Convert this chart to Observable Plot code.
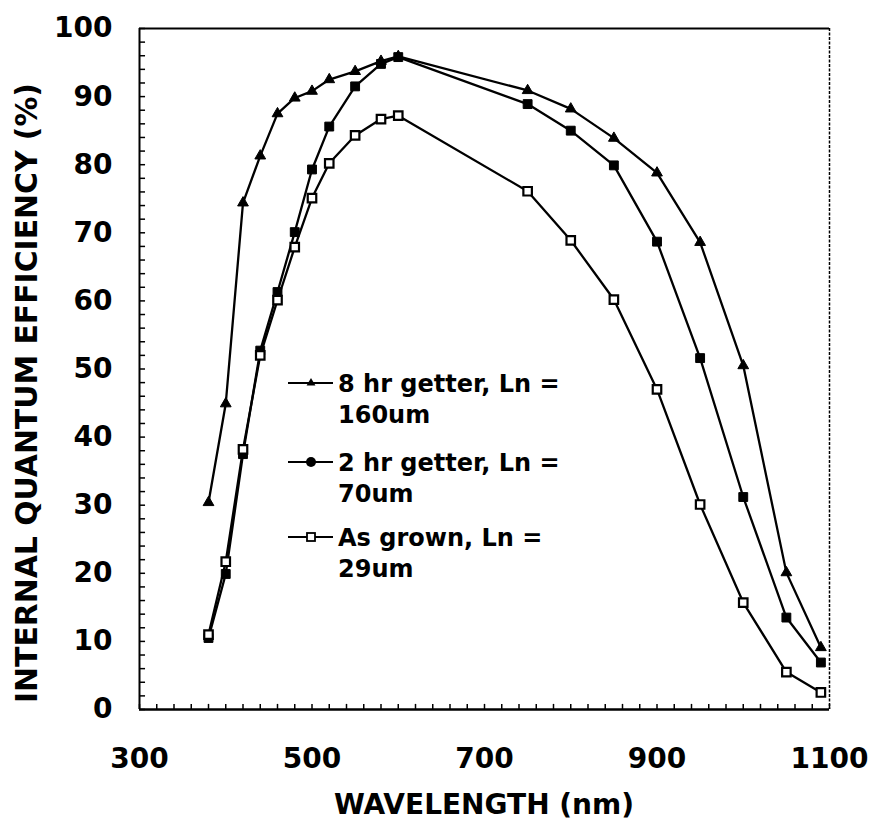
<!DOCTYPE html>
<html>
<head>
<meta charset="utf-8">
<script src="https://cdn.jsdelivr.net/npm/d3@7"></script>
<script src="https://cdn.jsdelivr.net/npm/@observablehq/plot@0.6"></script>
<style>
  html, body { margin: 0; padding: 0; background: white; }
  #chart svg { display: block; }
</style>
</head>
<body>
<div id="chart"></div>
<script>
// ---- data ----
const wavelengths = [380, 400, 420, 440, 460, 480, 500, 520, 550, 580, 600, 750, 800, 850, 900, 950, 1000, 1050, 1090];
const getter8hr   = [30.4, 44.9, 74.4, 81.3, 87.5, 89.8, 90.8, 92.5, 93.7, 95.2, 95.9, 90.9, 88.2, 83.9, 78.8, 68.6, 50.5, 20.1, 9.1];
const getter2hr   = [10.5, 19.9, 37.5, 52.7, 61.3, 70.1, 79.3, 85.6, 91.5, 94.8, 95.8, 88.9, 85.0, 79.9, 68.7, 51.6, 31.2, 13.5, 6.9];
const asGrown     = [11.0, 21.7, 38.2, 52.0, 60.1, 67.9, 75.1, 80.2, 84.3, 86.7, 87.2, 76.1, 68.9, 60.2, 47.0, 30.1, 15.7, 5.5, 2.5];

const seriesNames = ["8 hr getter, Ln =", "2 hr getter, Ln =", "As grown, Ln ="];
const seriesSub   = ["160um", "70um", "29um"];

const xTickValues = [300, 500, 700, 900, 1100];
const yTickValues = [0, 10, 20, 30, 40, 50, 60, 70, 80, 90, 100];
const xMinorTicks = d3.range(300, 1101, 20);
const yMinorTicks = d3.range(0, 101, 2);

const xTitle = "WAVELENGTH (nm)";
const yTitle = "INTERNAL QUANTUM EFFICIENCY (%)";

// ---- tidy table ----
const seriesValues = [getter8hr, getter2hr, asGrown];
const rows = seriesValues.flatMap((vals, s) =>
  wavelengths.map((w, i) => ({series: seriesNames[s], w, v: vals[i]})));
const bySeries = s => rows.filter(d => d.series === seriesNames[s]);

const W = 871, H = 821;
const M = {top: 28, right: 42, bottom: 112, left: 139};

const chart = Plot.plot({
  width: W, height: H,
  marginTop: M.top, marginRight: M.right, marginBottom: M.bottom, marginLeft: M.left,
  x: {domain: [300, 1100]},
  y: {domain: [0, 100]},
  style: {fontFamily: "DejaVu Sans", fontWeight: "bold", fontSize: "28px", background: "white", color: "black", overflow: "visible"},
  marks: [
    // minor inward ticks
    Plot.ruleX(xMinorTicks, {y1: 0, y2: 0.75, stroke: "black", strokeWidth: 1.5}),
    Plot.ruleY(yMinorTicks, {x1: 300, x2: 307, stroke: "black", strokeWidth: 1.5}),
    // frame
    Plot.ruleY([0], {stroke: "black", strokeWidth: 2.5}),
    Plot.ruleY([100], {stroke: "black", strokeWidth: 2.2}),
    Plot.ruleX([300], {stroke: "black", strokeWidth: 2}),
    Plot.ruleX([1100], {stroke: "black", strokeWidth: 1.5, strokeDasharray: "3,1.5"}),
    // axes
    Plot.axisX(xTickValues, {tickSize: 0, tickPadding: 39, label: null, tickFormat: d => String(d), fontSize: 28, fontWeight: "bold"}),
    Plot.axisY(yTickValues, {tickSize: 0, tickPadding: 27, label: null, tickFormat: d => String(d), fontSize: 28, fontWeight: "bold"}),
    // lines
    Plot.line(rows, {x: "w", y: "v", z: "series", stroke: "black", strokeWidth: 2.3}),
    // markers
    Plot.dot(bySeries(0), {x: "w", y: "v", symbol: "triangle", r: 4, fill: "black", stroke: "black", strokeWidth: 1}),
    Plot.dot(bySeries(1), {x: "w", y: "v", symbol: "square", r: 5, fill: "black", stroke: "black", strokeWidth: 1}),
    Plot.dot(bySeries(2), {x: "w", y: "v", symbol: "square", r: 4.8, fill: "white", stroke: "black", strokeWidth: 2.2})
  ]
});

document.getElementById("chart").appendChild(chart);

const svg = d3.select(chart);

// axis titles
svg.append("text")
  .attr("x", M.left + (W - M.left - M.right) / 2)
  .attr("y", 814)
  .attr("text-anchor", "middle")
  .style("font", "bold 28px 'DejaVu Sans'")
  .text(xTitle);

svg.append("text")
  .attr("transform", "translate(37,393) rotate(-90)")
  .attr("text-anchor", "middle")
  .attr("textLength", 620)
  .attr("lengthAdjust", "spacingAndGlyphs")
  .style("font", "bold 30px 'DejaVu Sans'")
  .text(yTitle);

// legend
const legendBase = [392, 471, 546];
const lg = svg.append("g").attr("text-anchor", "start").style("font", "bold 24px 'DejaVu Sans'");
legendBase.forEach((b, i) => {
  const sy = b - 9;
  lg.append("line").attr("x1", 288).attr("x2", 333).attr("y1", sy).attr("y2", sy)
    .attr("stroke", "black").attr("stroke-width", 2.2);
  if (i === 0) {
    lg.append("path").attr("d", d3.symbol(d3.symbolTriangle, 34)()).attr("transform", `translate(311,${sy})`).attr("fill", "black");
  } else if (i === 1) {
    lg.append("circle").attr("cx", 311).attr("cy", sy).attr("r", 5).attr("fill", "black");
  } else {
    lg.append("rect").attr("x", 307).attr("y", sy - 4).attr("width", 8).attr("height", 8)
      .attr("fill", "white").attr("stroke", "black").attr("stroke-width", 1.8);
  }
  lg.append("text").attr("x", 338).attr("y", b).attr("text-anchor", "start").text(seriesNames[i]);
  lg.append("text").attr("x", 338).attr("y", b + 31).attr("text-anchor", "start").text(seriesSub[i]);
});
</script>
</body>
</html>
